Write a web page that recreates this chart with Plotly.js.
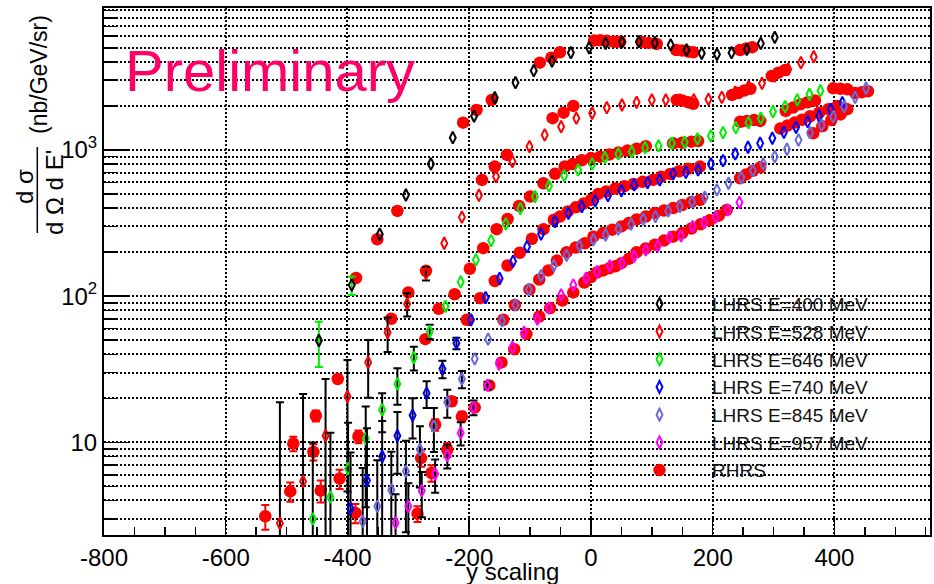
<!DOCTYPE html>
<html>
<head>
<meta charset="utf-8">
<script src="https://cdn.plot.ly/plotly-3.0.1.min.js"></script>
<style>html,body{margin:0;padding:0;background:#fff;}#chart{width:934px;height:584px;}</style>
</head>
<body>
<div id="chart"></div>
<script>
// ---------------- data ----------------
const seriesNames = ["LHRS E=400 MeV","LHRS E=528 MeV","LHRS E=646 MeV","LHRS E=740 MeV","LHRS E=845 MeV","LHRS E=957 MeV","RHRS"];

const x400 = [-447,-393,-347,-304,-263,-227,-192,-158,-124,-94,-64,-33,-3,24,51,79,105,131,157,182,207,231,256,279,302];
const y400 = [49.7,119,265,492,802,1214,1706,2276,2884,3484,4057,4626,5000,5355,5470,5500,5410,5225,4830,4585,4510,4626,4880,5355,5890];
const e400 = [17,17];

const x528 = [-511,-473,-436,-400,-366,-334,-302,-271,-241,-212,-184,-156,-129,-101,-76,-49,-24,2,26,51,75,100,123,146,169,193,215,237,259,281,302,324,345,366];
const y528 = [2.79,5.4,11.1,20.6,35.2,56.4,88.5,143,230,347,490,658,832,1054,1267,1443,1649,1782,1947,2030,2118,2198,2198,2200,2200,2220,2290,2490,2710,2855,3200,3565,3955,4345];
const e528 = [16,16,16,16,15,15,16,15];

const x646 = [-457,-428,-399,-370,-343,-318,-291,-265,-239,-214,-189,-164,-140,-116,-92,-69,-44,-21,2,23,45,67,89,111,133,154,175,197,217,238,259,279,299,319,339,359,377];
const y646 = [2.99,4.22,6.6,10.6,16.7,25.1,38,57.3,85,125,177,240,312,397,480,567,667,730,802,886,939,973,1037,1065,1111,1129,1189,1247,1313,1420,1537,1649,1827,1977,2198,2404,2543];
const e646 = [7,7.4,7,7,5,7,7,6.5];

const x740 = [-395,-368,-343,-318,-293,-270,-244,-221,-197,-173,-150,-128,-105,-82,-59,-37,-15,7,28,50,71,93,113,135,156,176,197,217,237,258,278,298,317,337,356,375,394,413];
const y740 = [3.52,5.47,8.0,11.1,15.3,21.7,31.8,47.7,68.9,97.8,132,173,218,266,324,369,410,448,487,527,577,598,624,686,704,730,802,845,939,1043,1111,1202,1321,1429,1562,1707,1897,2105];
const e740 = [5,7,6,5,4.7,4.5,4.4,4.3];

const x845 = [-375,-351,-328,-304,-281,-258,-236,-212,-191,-169,-146,-124,-102,-82,-61,-40,-19,4,24,45,66,86,106,127,146,166,187,207,226,247,266,283,302,322,341,360,379,398,416,434,452];
const y845 = [2.88,3.65,4.72,6.33,8.9,12.9,18.8,27.1,37.2,50.8,67.8,87.1,111,138,162,190,221,243,262,287,311,336,350,383,410,443,475,533,592,647,722,802,900,1011,1170,1313,1482,1690,1977,2290,2643];
const e845 = [3.8,3.9,3.9,3.9,4,4.3,4.1,3.7];

const x957 = [-321,-300,-278,-256,-236,-214,-193,-170,-151,-129,-110,-88,-69,-49,-29,-8,10,31,51,71,90,110,129,148,167,186,205,225,244];
const y957 = [2.81,3.65,4.67,6.07,8.13,11.6,17.3,24.5,34.3,44.6,56.4,69.6,82.8,102,119,133,147,161,168,187,207,221,252,258,299,319,347,389,437];
const e957 = [1.6,1.6,1.6,1.55,1.5,2.1,2,1.5];

const xRHRS = [
  -535,-494,-489,-456,-452,-444,-416,-413,-387,-382,-285,-279,-262,-256,-236,-229,-212,
  -386,-351,-318,-210,-188,-163,-84,-65,-51,5,15,26,38,48,83,95,108,140,150,160,168,245,255,265,
  -328,-300,-271,-179,-158,-138,-63,-45,-29,141,150,160,168,232,242,252,262,297,308,319,
  -272,-250,-224,-199,-177,-155,-137,-118,-100,-78,-59,-43,-30,-15,0,15,30,45,60,75,90,135,150,165,176,245,256,268,278,320,332,344,356,368,398,410,421,
  -204,-182,-158,-137,-117,-97,-78,-61,-51,-38,-25,-12,0,12,25,40,55,70,85,102,115,130,145,160,179,311,323,335,347,360,375,390,405,
  -144,-125,-101,-85,-70,-56,-40,-25,-10,4,20,35,50,62,75,90,105,120,135,150,165,179,245,255,266,278,365,380,395,410,421,434,445,455,
  -191,-167,-147,-126,-106,-85,-67,-47,-29,-11,0,10,20,30,40,50,62,75,90,105,120,135,150,165,180,195,210,223
];
const yRHRS = [
  3.12,4.62,9.8,8.6,15.2,4.67,27.1,5.65,3.29,10.96,3.25,7.8,6.17,13.2,8.9,19.1,15.0,
  133,245,383,1537,1875,2198,3955,4276,4656,5600,5620,5585,5500,5500,5470,5400,5310,4830,4780,4700,4650,4830,4950,5050,
  70,106,149,624,769,925,1649,1800,2000,2198,2180,2120,2070,2380,2450,2550,2620,3206,3380,3525,
  50.8,82,103,154,213,287,337,414,480,592,686,770,800,850,880,900,930,960,990,1020,1060,1110,1120,1140,1150,1560,1580,1600,1580,1850,1950,2050,2120,2180,2640,2620,2600,
  68.9,96.8,127,162,198,247,287,333,350,380,405,430,455,500,520,545,565,585,605,624,655,685,715,745,769,1400,1470,1540,1610,1700,1800,1900,2000,
  68.9,87,111,130,150,175,200,215,230,255,270,285,300,316,335,350,370,385,400,420,440,455,640,680,720,760,1300,1450,1600,1750,1900,2450,2480,2520,
  17.3,24.5,35.2,43.4,55,72.6,82.8,93.3,106,124,135,145,150,155,160,168,180,200,212,225,240,255,270,290,310,330,355,389
];
const eRHRS = [0.6,0.7,1.1,1.1,1.3,0.8,1.5,0.85,0.5,1.1,0.4,1.0,0.8,1.2,1.0,1.3,1.2];

const xTickVals = [-800,-600,-400,-200,0,200,400];
const xTickText = ["-800","-600","-400","-200","0","200","400"];
const yMajorTicks = [10,100,1000];
const yMajorText = ["10","10<sup>2</sup>","10<sup>3</sup>"];
const yMinorTicks = [3,4,5,6,7,8,9,20,30,40,50,60,70,80,90,200,300,400,500,600,700,800,900,2000,3000,4000,5000,6000,7000,8000,9000];

// ---------------- styling ----------------
const colors = ["#000000","#ff0000","#00ee00","#0000ff","#6a6ae0","#ff00ff"];
const FONT = "Liberation Sans, Arial, Helvetica, sans-serif";
const DOT = "2px,2px";

function lhrs(i, xs, ys, es, barColor) {
  return {
    type: "scatter", mode: "markers", name: seriesNames[i], x: xs, y: ys,
    legendrank: i + 1,
    marker: {symbol: "diamond-tall-open", size: 8.5, color: colors[i], line: {width: 2, color: colors[i]}},
    error_y: {type: "data", array: es, symmetric: true, color: barColor, thickness: 2, width: 4}
  };
}

const traces = [
  {
    type: "scatter", mode: "markers", name: seriesNames[6], x: xRHRS, y: yRHRS,
    legendrank: 7,
    marker: {symbol: "circle", size: 12.5, color: "#ff0000", line: {width: 0}},
    error_y: {type: "data", array: eRHRS, symmetric: true, color: "#ff0000", thickness: 2, width: 4}
  },
  lhrs(0, x400, y400, e400, "#00ee00"),
  lhrs(1, x528, y528, e528, "#000000"),
  lhrs(2, x646, y646, e646, "#000000"),
  lhrs(3, x740, y740, e740, "#000000"),
  lhrs(4, x845, y845, e845, "#000000"),
  lhrs(5, x957, y957, e957, "#000000")
];

const L = 104, R = 930, T = 8, B = 535;
const W = R - L, H = B - T;
const px2x = p => (p - L) / W;
const px2y = p => (B - p) / H;

const layout = {
  width: 934, height: 584,
  margin: {l: L, r: 934 - R, t: T, b: 584 - B, pad: 0},
  paper_bgcolor: "#ffffff", plot_bgcolor: "#ffffff",
  font: {family: FONT, color: "#000000", size: 24},
  showlegend: true,
  legend: {
    x: px2x(607), y: px2y(285), xanchor: "left", yanchor: "top",
    bgcolor: "rgba(0,0,0,0)", borderwidth: 0,
    font: {family: FONT, size: 19, color: "#111111"},
    itemwidth: 95, tracegroupgap: 0, traceorder: "normal"
  },
  xaxis: {
    range: [-800, 557], tickmode: "array", tickvals: xTickVals, ticktext: xTickText,
    ticks: "inside", ticklen: 17, tickwidth: 1.5, tickcolor: "#000",
    showline: true, linewidth: 2, linecolor: "#000", mirror: true,
    showgrid: true, gridcolor: "#000", gridwidth: 2, griddash: DOT,
    zeroline: false,
    tickfont: {size: 24},
    minor: {dtick: 50, tick0: 0, ticks: "inside", ticklen: 8, tickwidth: 1.5, tickcolor: "#000", showgrid: false}
  },
  yaxis: {
    type: "log", range: [0.366, 3.971],
    tickmode: "array", tickvals: yMajorTicks, ticktext: yMajorText,
    ticks: "inside", ticklen: 25, tickwidth: 1.5, tickcolor: "#000",
    showline: true, linewidth: 2, linecolor: "#000", mirror: true,
    showgrid: true, gridcolor: "#000", gridwidth: 2, griddash: DOT,
    zeroline: false,
    tickfont: {size: 24},
    minor: {tickmode: "array", tickvals: yMinorTicks, ticks: "inside", ticklen: 12, tickwidth: 1.5, tickcolor: "#000",
            showgrid: true, gridcolor: "#000", gridwidth: 2, griddash: DOT}
  },
  annotations: [
    {text: "Preliminary", xref: "paper", yref: "paper", x: px2x(123), y: px2y(70), xanchor: "left", yanchor: "middle",
     showarrow: false, font: {family: FONT, size: 58, color: "#ff0066"}},
    {text: "y scaling", xref: "paper", yref: "paper", x: px2x(512), y: px2y(571), xanchor: "center", yanchor: "middle",
     showarrow: false, font: {family: FONT, size: 24}},
    {text: "d σ", xref: "paper", yref: "paper", x: px2x(25), y: px2y(187), xanchor: "center", yanchor: "middle",
     textangle: -90, showarrow: false, font: {family: FONT, size: 24}},
    {text: "d Ω d E'", xref: "paper", yref: "paper", x: px2x(54), y: px2y(193), xanchor: "center", yanchor: "middle",
     textangle: -90, showarrow: false, font: {family: FONT, size: 24}},
    {text: "(nb/GeV/sr)", xref: "paper", yref: "paper", x: px2x(39), y: px2y(75), xanchor: "center", yanchor: "middle",
     textangle: -90, showarrow: false, font: {family: FONT, size: 23}}
  ],
  shapes: [
    {type: "line", xref: "paper", yref: "paper", x0: px2x(37.3), x1: px2x(37.3), y0: px2y(147), y1: px2y(233),
     line: {color: "#000", width: 1.5}}
  ]
};

Plotly.newPlot("chart", traces, layout, {displayModeBar: false, staticPlot: true});
</script>
</body>
</html>
